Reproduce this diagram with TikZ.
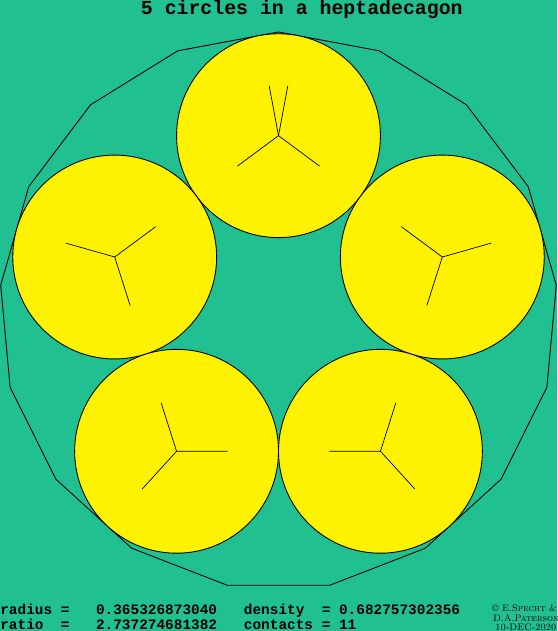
\documentclass[tikz,border=0pt]{standalone}
\usepackage{fontspec}
\newfontfamily\codefont{Liberation Mono}
\usepackage{tikz}
\usetikzlibrary{calc}
\definecolor{felt}{RGB}{32,192,144}

\begin{document}
\begin{tikzpicture}[x=5.58cm, y=5.58cm,
  disk/.style={fill=yellow, draw=black, line width=0.5pt},
  spoke/.style={black, line width=0.4pt},
  wall/.style={black, line width=0.5pt, line join=miter},
  stat/.style={font=\codefont\bfseries\fontsize{8.2}{9}\selectfont, anchor=base west, inner sep=0pt},
  credit/.style={font=\fontsize{5.4}{6}\selectfont\scshape, anchor=base west, inner sep=0pt}]
  \useasboundingbox (-0.99821,-1.14695) rectangle (0.99821,1.11470);
  \fill[felt] (-0.99821,-1.14695) rectangle (0.99821,1.11470);
  \node[font=\codefont\bfseries\fontsize{11.3}{13}\selectfont, anchor=base, inner sep=0pt] (title) at (0.0835,1.0610) {5 circles in a heptadecagon};
  % container
  \draw[wall] (90:1) -- (111.18:1) -- (132.35:1) -- (153.53:1) -- (174.71:1) -- (195.88:1) -- (217.06:1) -- (238.24:1) -- (259.41:1) -- (280.59:1) -- (301.76:1) -- (322.94:1) -- (344.12:1) -- (5.29:1) -- (26.47:1) -- (47.65:1) -- (68.82:1) -- cycle;
  % circle centres
  \coordinate (top) at (0,0.62835);
  \coordinate (left) at (-0.58711,0.19346);
  \coordinate (right) at (0.58711,0.19346);
  \coordinate (lowleft) at (-0.36533,-0.50274);
  \coordinate (lowright) at (0.36533,-0.50274);
  \draw[disk] (top) circle (0.36533);
  \draw[disk] (left) circle (0.36533);
  \draw[disk] (right) circle (0.36533);
  \draw[disk] (lowleft) circle (0.36533);
  \draw[disk] (lowright) circle (0.36533);
  % contacts
  \draw[spoke] (top) -- ++(79.41:0.18266);
  \draw[spoke] (top) -- ++(100.59:0.18266);
  \draw[spoke] (top) -- ($(top)!0.25!(left)$);
  \draw[spoke] (top) -- ($(top)!0.25!(right)$);
  \draw[spoke] (left) -- ++(164.12:0.18266);
  \draw[spoke] (left) -- ($(left)!0.25!(top)$);
  \draw[spoke] (left) -- ($(left)!0.25!(lowleft)$);
  \draw[spoke] (right) -- ++(15.88:0.18266);
  \draw[spoke] (right) -- ($(right)!0.25!(top)$);
  \draw[spoke] (right) -- ($(right)!0.25!(lowright)$);
  \draw[spoke] (lowleft) -- ++(227.65:0.18266);
  \draw[spoke] (lowleft) -- ($(lowleft)!0.25!(left)$);
  \draw[spoke] (lowleft) -- ($(lowleft)!0.25!(lowright)$);
  \draw[spoke] (lowright) -- ++(312.35:0.18266);
  \draw[spoke] (lowright) -- ($(lowright)!0.25!(right)$);
  \draw[spoke] (lowright) -- ($(lowright)!0.25!(lowleft)$);
  % figures
  \node[stat] (radlab) at (-0.99821,-1.0885) {radius =};
  \node[stat] (radval) at (-0.65520,-1.0885) {0.365326873040};
  \node[stat] (denlab) at (-0.12508,-1.0885) {density~~= 0.682757302356};
  \node[stat] (ratlab) at (-0.99821,-1.1398) {ratio~~=};
  \node[stat] (ratval) at (-0.65520,-1.1398) {2.737274681382};
  \node[stat] (conlab) at (-0.12508,-1.1398) {contacts = 11};
  \node[credit] (credit1) at (0.7642,-1.0771) {\textcopyright\ E.Specht \&};
  \node[credit] (credit2) at (0.7678,-1.1129) {D.A.Paterson};
  \node[credit] (credit3) at (0.7760,-1.1452) {10-DEC-2020};
\end{tikzpicture}
\end{document}
